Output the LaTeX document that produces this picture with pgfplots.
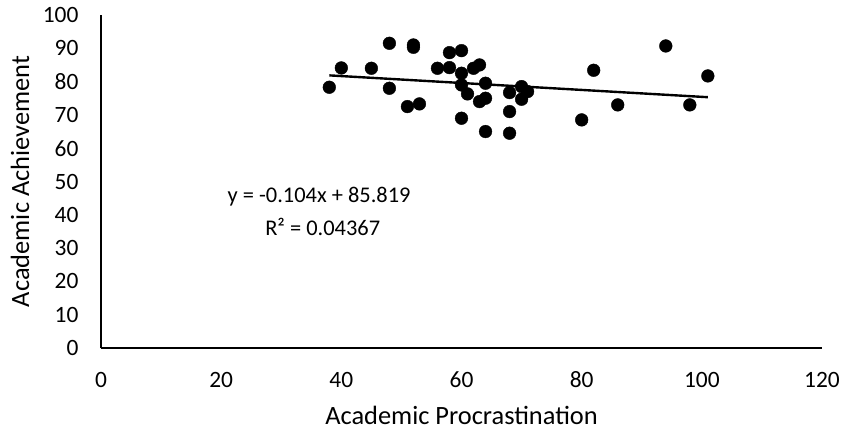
\documentclass[border=0pt]{standalone}
\usepackage{pgfplots}
\pgfplotsset{compat=1.18}
\usepackage{fontspec}
\setmainfont{Carlito}

\begin{document}
\begin{tikzpicture}
\path[use as bounding box] (-101bp,-88bp) rectangle (748bp,348bp);
\begin{axis}[
    at={(0,0)}, anchor=origin,
    scale only axis,
    width=721bp, height=333bp,
    xmin=0, xmax=120, ymin=0, ymax=100,
    xtick={0,20,...,120}, ytick={0,10,...,100},
    axis x line=bottom, axis y line=left,
    axis line style={-, line width=1.1pt},
    major tick length=0pt,
    /pgf/number format/assume math mode=true,
    xticklabel style={font=\fontsize{23.5}{28}\selectfont, anchor=base, yshift=-39bp},
    yticklabel style={font=\fontsize{23.5}{28}\selectfont, xshift=-19bp},
    xlabel={Academic Procrastination},
    ylabel={Academic Achievement},
    xlabel style={font=\fontsize{26.5}{31}\selectfont, at={(axis description cs:0.5,0)}, anchor=center, yshift=-67bp},
    ylabel style={font=\fontsize{26.5}{31}\selectfont, at={(axis description cs:0,0.5)}, anchor=center, yshift=81bp},
    clip=false,
]
\addplot[only marks, mark=*, mark size=6.4pt, black] coordinates {
    (38,78.3) (40,84.1) (45,84) (48,91.5) (48,78) (52,91) (52,90.3)
    (51,72.5) (53,73.3) (56,84) (58,88.7) (58,84.2) (60,89.3) (60,82.5)
    (60,79) (61,76.3) (60,69) (62,84) (63,85) (64,79.5) (63,74) (64,75)
    (64,65) (68,76.7) (68,71) (68,64.5) (70,78.5) (70,74.7) (71,77)
    (82,83.4) (80,68.5) (86,73) (94,90.7) (98,73) (101,81.7)
};
\addplot[black, line width=2.4pt] coordinates {(38,81.867) (101,75.315)};
\node[font=\fontsize{22.5}{27}\selectfont] at (axis cs:36.3,45.6) {y = -0.104x + 85.819};
\node[font=\fontsize{22.5}{27}\selectfont] at (axis cs:36.9,36.3) {R² = 0.04367};
\end{axis}
\end{tikzpicture}
\end{document}
